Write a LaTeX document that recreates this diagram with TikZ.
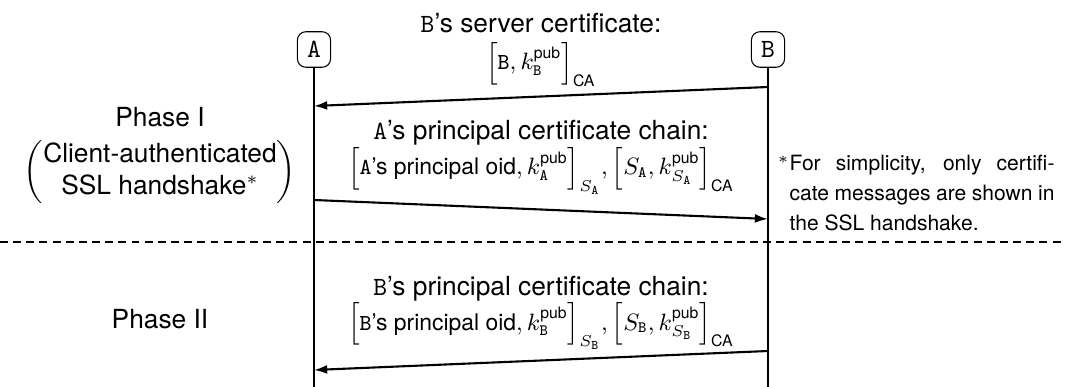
\documentclass[tikz,border=0pt]{standalone}
\usepackage{amsmath}
\usepackage{fontspec}
\setmainfont{TeX Gyre Heros}
\usetikzlibrary{arrows.meta}
\newcommand{\ptxt}[1]{\text{\fontsize{8.7}{10}\selectfont #1}}
\newcommand{\ttA}{\text{\texttt{A}}}
\newcommand{\ttB}{\text{\texttt{B}}}
\begin{document}
\begin{tikzpicture}[x=0.38pt,y=-0.38pt,
  actor/.style={draw,line width=0.4pt,rounded corners=3.2pt,minimum width=12.6pt,minimum height=13.5pt,inner sep=0pt,font=\ttfamily},
  lifeline/.style={line width=0.4pt},
  msg/.style={line width=0.8pt,-{Latex[length=5pt,width=3.4pt]}},
  lbl/.style={anchor=base,inner sep=0pt,font=\fontsize{10}{12}\selectfont},
  fml/.style={anchor=base,inner sep=0pt,font=\fontsize{9}{11}\selectfont},
  sep/.style={line width=0.4pt,dash pattern=on 3pt off 2pt}]
\useasboundingbox (0,0) rectangle (1065,387);
% actors
\node[actor] (A) at (314,49.5) {A};
\node[actor] (B) at (768,49.5) {B};
\coordinate (Aend) at (314,387);
\coordinate (Bend) at (768,387);
\draw[lifeline] (A.south) -- (Aend);
\draw[lifeline] (B.south) -- (Bend);
% arrow end points on the lifelines
\coordinate (b1) at (768,87);  \coordinate (a1) at (314,106);
\coordinate (a2) at (314,200); \coordinate (b2) at (768,219);
\coordinate (b3) at (768,351); \coordinate (a3) at (314,370);
% separator
\coordinate (s1) at (0,242); \coordinate (s2) at (1065,242);
\draw[sep] (s1) -- (s2);
% messages
\node[lbl] (t1) at (541,33) {\texttt{B}’s server certificate:};
\node[fml] (f1) at (541,70) {$\Bigl[\ptxt{\texttt{B}}, k^{\text{pub}}_{\ttB}\Bigr]_{\text{CA}}$};
\draw[msg] (b1) -- (a1);
\node[lbl] (t2) at (541,140) {\texttt{A}’s principal certificate chain:};
\node[fml] (f2) at (541,175) {$\Bigl[\ptxt{\texttt{A}’s principal oid}, k^{\text{pub}}_{\ttA}\Bigr]_{S_{\ttA}}, \Bigl[S_{\ttA}, k^{\text{pub}}_{S_{\ttA}}\Bigr]_{\text{CA}}$};
\draw[msg] (a2) -- (b2);
\node[lbl] (t3) at (541,295) {\texttt{B}’s principal certificate chain:};
\node[fml] (f3) at (541,330) {$\Bigl[\ptxt{\texttt{B}’s principal oid}, k^{\text{pub}}_{\ttB}\Bigr]_{S_{\ttB}}, \Bigl[S_{\ttB}, k^{\text{pub}}_{S_{\ttB}}\Bigr]_{\text{CA}}$};
\draw[msg] (b3) -- (a3);
% phases
\node[lbl] (p1) at (160,127) {Phase I};
\node[inner sep=0pt,font=\fontsize{10}{12}\selectfont] (p1b) at (160,172) {$\left(\begin{tabular}{@{}c@{}}Client-authenticated\\SSL handshake$^*$\end{tabular}\right)$};
\node[lbl] (p2) at (160,328) {Phase II};
% footnote
\node[anchor=north west,inner sep=0pt,text width=100.7pt,align=justify,font=\fontsize{8}{11.4}\selectfont] (fn) at (789,154.5)
 {\llap{$^*$}For simplicity, only certifi-\linebreak cate messages are shown in\linebreak the SSL handshake.};
\end{tikzpicture}
\end{document}
